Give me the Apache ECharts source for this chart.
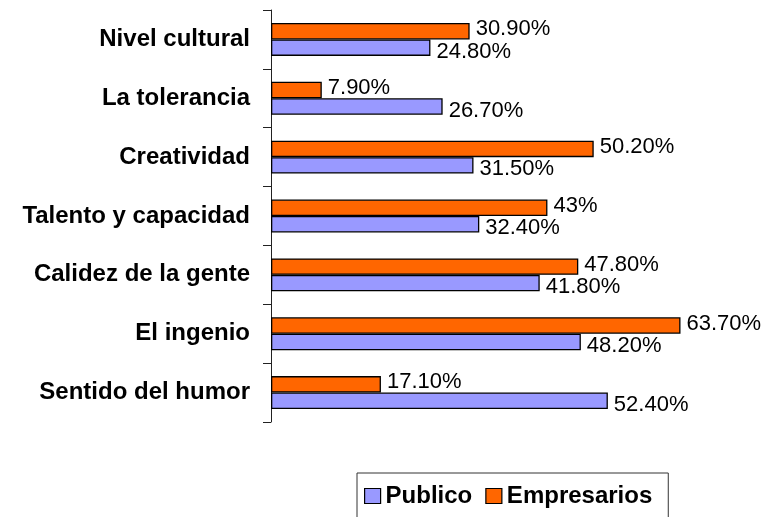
<!DOCTYPE html>
<html>
<head>
<meta charset="utf-8">
<script src="https://cdn.jsdelivr.net/npm/echarts@6/dist/echarts.min.js"></script>
<style>
html,body{margin:0;padding:0;background:#fff;}
#chart{width:765px;height:517px;}
</style>
</head>
<body>
<div id="chart"></div>
<script>
// Categories listed top to bottom as in the picture
var categories = ['Nivel cultural','La tolerancia','Creatividad','Talento y capacidad','Calidez de la gente','El ingenio','Sentido del humor'];
var empresarios = [30.9, 7.9, 50.2, 43, 47.8, 63.7, 17.1];
var publico = [24.8, 26.7, 31.5, 32.4, 41.8, 48.2, 52.4];
var legendNames = ['Publico','Empresarios'];

var FONT = "'Liberation Sans', Arial, sans-serif";
function fmt(p){ var v = p.value; return (Number.isInteger(v) ? v : v.toFixed(2)) + '%'; }

var chart = echarts.init(document.getElementById('chart'), null, {renderer:'canvas'});
chart.setOption({
  animation: false,
  backgroundColor: '#ffffff',
  grid: {left: 271, top: 10, bottom: 95, width: 450, containLabel: false},
  xAxis: {type: 'value', min: 0, max: 70, show: false},
  yAxis: {
    type: 'category',
    data: categories.slice().reverse(),
    axisLine: {show: true, lineStyle: {color: '#222', width: 1}},
    axisTick: {show: true, length: 8, lineStyle: {color: '#222'}},
    axisLabel: {margin: 21, color: '#000', fontFamily: FONT, fontWeight: 'bold', fontSize: 24}
  },
  legend: {
    data: legendNames,
    left: 357, top: 473,
    orient: 'horizontal',
    padding: [11, 16, 24, 7],
    itemGap: 13,
    itemWidth: 16, itemHeight: 15,
    borderColor: '#333', borderWidth: 1,
    icon: 'rect',
    itemStyle: {borderColor: '#000', borderWidth: 1.2},
    textStyle: {fontFamily: FONT, fontWeight: 'bold', fontSize: 24, color: '#000'}
  },
  series: [
    {
      name: 'Empresarios', type: 'bar',
      data: empresarios.slice().reverse(),
      barGap: '0%', barCategoryGap: '44%',
      itemStyle: {color: '#FF6600', borderColor: '#000', borderWidth: 1.3},
      label: {show: true, position: 'right', distance: 6, offset: [0, -2], formatter: fmt,
              fontFamily: FONT, fontSize: 22, color: '#000'}
    },
    {
      name: 'Publico', type: 'bar',
      data: publico.slice().reverse(),
      barGap: '0%', barCategoryGap: '44%',
      itemStyle: {color: '#9999FF', borderColor: '#000', borderWidth: 1.3},
      label: {show: true, position: 'right', distance: 6, offset: [0, 4], formatter: fmt,
              fontFamily: FONT, fontSize: 22, color: '#000'}
    }
  ]
});
</script>
</body>
</html>
